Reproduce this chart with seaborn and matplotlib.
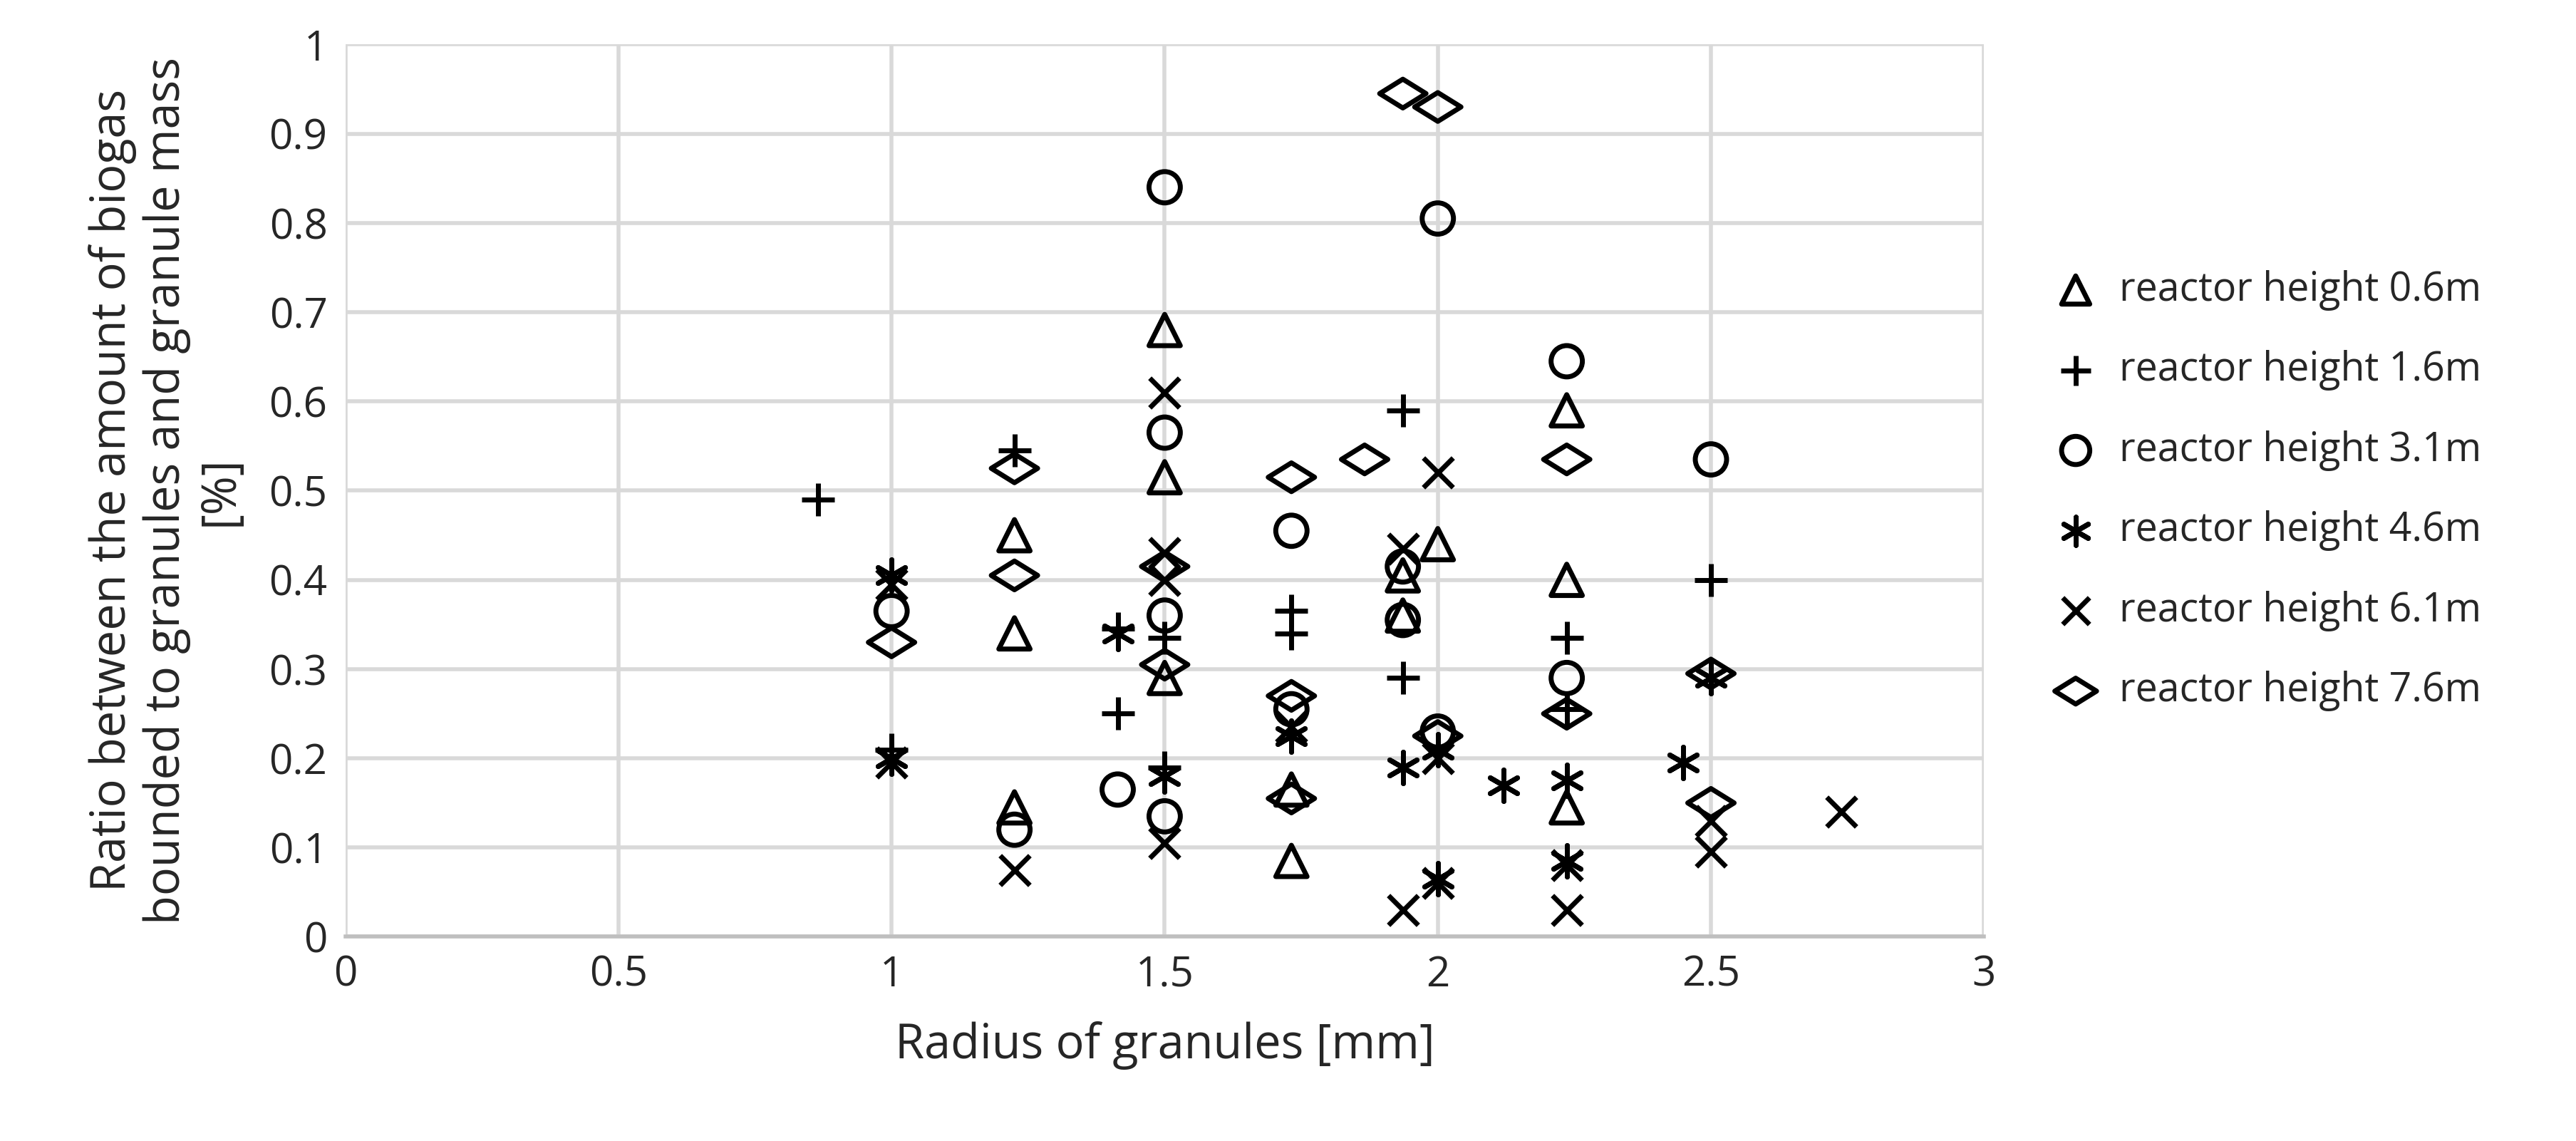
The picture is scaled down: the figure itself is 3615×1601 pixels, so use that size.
import matplotlib
matplotlib.use("Agg")
import matplotlib.pyplot as plt
import seaborn as sns
import pandas as pd
import numpy as np
from matplotlib.path import Path

series_names = ["reactor height 0.6m", "reactor height 1.6m", "reactor height 3.1m",
                "reactor height 4.6m", "reactor height 6.1m", "reactor height 7.6m"]

h06_x = [1.225, 1.225, 1.225, 1.5, 1.5, 1.5, 1.732, 1.732, 1.936, 1.936, 2.0, 2.236, 2.236, 2.236]
h06_y = [0.45, 0.34, 0.145, 0.68, 0.515, 0.29, 0.165, 0.085, 0.405, 0.36, 0.44, 0.59, 0.40, 0.145]

h16_x = [0.866, 1.0, 1.225, 1.414, 1.414, 1.5, 1.5, 1.732, 1.732, 1.936, 1.936, 2.236, 2.236, 2.5]
h16_y = [0.49, 0.21, 0.545, 0.25, 0.345, 0.335, 0.19, 0.365, 0.34, 0.59, 0.29, 0.335, 0.255, 0.40]

h31_x = [1.0, 1.225, 1.414, 1.5, 1.5, 1.5, 1.5, 1.732, 1.732, 1.936, 1.936, 2.0, 2.0, 2.236, 2.236, 2.5]
h31_y = [0.365, 0.12, 0.165, 0.84, 0.565, 0.36, 0.135, 0.455, 0.255, 0.415, 0.355, 0.805, 0.23, 0.645, 0.29, 0.535]

h46_x = [1.0, 1.0, 1.414, 1.5, 1.732, 1.936, 2.0, 2.0, 2.121, 2.236, 2.236, 2.449, 2.5]
h46_y = [0.405, 0.2, 0.34, 0.18, 0.225, 0.19, 0.065, 0.21, 0.17, 0.175, 0.085, 0.195, 0.29]

h61_x = [1.0, 1.0, 1.225, 1.5, 1.5, 1.5, 1.5, 1.732, 1.936, 1.936, 2.0, 2.0, 2.0, 2.236, 2.236, 2.5, 2.5, 2.739]
h61_y = [0.395, 0.195, 0.075, 0.61, 0.43, 0.40, 0.105, 0.235, 0.435, 0.03, 0.52, 0.20, 0.06, 0.03, 0.08, 0.13, 0.095, 0.14]

h76_x = [1.0, 1.225, 1.225, 1.5, 1.5, 1.732, 1.732, 1.732, 1.866, 1.936, 2.0, 2.0, 2.236, 2.236, 2.5, 2.5]
h76_y = [0.33, 0.525, 0.405, 0.415, 0.305, 0.515, 0.27, 0.155, 0.535, 0.945, 0.93, 0.225, 0.535, 0.25, 0.295, 0.15]

xticks = [0, 0.5, 1, 1.5, 2, 2.5, 3]
yticks = [0, 0.1, 0.2, 0.3, 0.4, 0.5, 0.6, 0.7, 0.8, 0.9, 1]

sns.set_theme(style="white")
plt.rcParams['font.family'] = ['Open Sans', 'DejaVu Sans']

diamond = Path([(-1, 0), (0, 0.62), (1, 0), (0, -0.62), (-1, 0)],
               [Path.MOVETO, Path.LINETO, Path.LINETO, Path.LINETO, Path.CLOSEPOLY])

fig = plt.figure(figsize=(36.16, 16.01), dpi=100)
ax = fig.add_axes([0.134, 0.179, 0.636, 0.782])

data = [(h06_x, h06_y, "^", 1000), (h16_x, h16_y, "+", 1100), (h31_x, h31_y, "o", 1000),
        (h46_x, h46_y, (6, 2, 0), 1000), (h61_x, h61_y, "x", 900), (h76_x, h76_y, diamond, 2200)]
for name, (xs, ys, m, s) in zip(series_names, data):
    df = pd.DataFrame({"x": xs, "y": ys})
    filled = m in ("^", "o") or isinstance(m, Path)
    kw = dict(facecolors="none", edgecolors="black", linewidths=5) if filled else dict(color="black", linewidths=5)
    sns.scatterplot(data=df, x="x", y="y", marker=m, s=s, ax=ax, label=name, zorder=3, **kw)

ax.set_xlim(0, 3)
ax.set_ylim(0, 1)
ax.set_xticks(xticks)
ax.set_xticklabels([f"{t:g}" for t in xticks])
ax.set_yticks(yticks)
ax.set_yticklabels([f"{t:g}" for t in yticks])
ax.grid(True, color="#d9d9d9", linewidth=4)
ax.set_axisbelow(True)
for sp in ["top", "right", "left"]:
    ax.spines[sp].set_visible(False)
ax.spines["bottom"].set_color("#bfbfbf")
ax.spines["bottom"].set_linewidth(4)
ax.tick_params(axis="both", labelsize=42, length=0, pad=18)
ax.set_xlabel("Radius of granules [mm]", fontsize=48, labelpad=25)
ax.set_ylabel("Ratio between the amount of biogas\nbounded to granules and granule mass\n[%]",
              fontsize=48, labelpad=25, linespacing=1.15)

leg = ax.legend(loc="center left", bbox_to_anchor=(1.01, 0.5), frameon=False, fontsize=40,
                handletextpad=0.1, labelspacing=1.0, markerscale=0.9)
fig.savefig("out.png", dpi=100)
